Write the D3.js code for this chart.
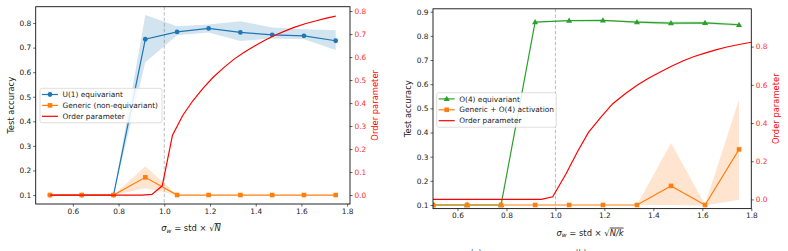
<!DOCTYPE html>
<html>
<head>
<meta charset="utf-8">
<script src="https://cdn.jsdelivr.net/npm/d3@7"></script>
<style>
  body { margin: 0; background: #fff; }
  svg { font-family: "DejaVu Sans", sans-serif; }
</style>
</head>
<body>
<svg id="chart" width="788" height="251"></svg>
<script>
// Shared sweep of sigma_w
const sigma = [0.5, 0.639, 0.778, 0.917, 1.056, 1.194, 1.333, 1.472, 1.611, 1.75];

// Left panel: U(1)
const u1Acc = [0.1, 0.1, 0.1, 0.734, 0.764, 0.778, 0.762, 0.752, 0.748, 0.728];
const u1Lo  = [0.1, 0.1, 0.1, 0.640, 0.750, 0.761, 0.727, 0.737, 0.734, 0.690];
const u1Hi  = [0.1, 0.1, 0.1, 0.833, 0.787, 0.794, 0.807, 0.782, 0.775, 0.771];
const genAcc = [0.1, 0.1, 0.1, 0.172, 0.1, 0.1, 0.1, 0.1, 0.1, 0.1];
const genLo  = [0.1, 0.1, 0.1, 0.128, 0.1, 0.1, 0.1, 0.1, 0.1, 0.1];
const genHi  = [0.1, 0.1, 0.1, 0.217, 0.1, 0.1, 0.1, 0.1, 0.1, 0.1];
const orderX1 = [0.5, 0.545, 0.589, 0.634, 0.679, 0.723, 0.768, 0.813, 0.857, 0.902, 0.946, 0.991,
  1.036, 1.080, 1.125, 1.170, 1.214, 1.259, 1.304, 1.348, 1.393, 1.438, 1.482, 1.527, 1.571,
  1.616, 1.661, 1.705, 1.75];
const order1 = [0, 0, 0, 0, 0, 0, 0, 0, 0, 0, 0.003, 0.04,
  0.26, 0.345, 0.41, 0.465, 0.512, 0.553, 0.59, 0.62, 0.647, 0.672, 0.694, 0.713, 0.73,
  0.745, 0.757, 0.768, 0.778];

// Right panel: O(4)
const o4Acc = [0.1, 0.1, 0.1, 0.857, 0.863, 0.864, 0.857, 0.853, 0.854, 0.846];
const o4Lo  = [0.1, 0.1, 0.1, 0.855, 0.861, 0.862, 0.852, 0.846, 0.849, 0.840];
const o4Hi  = [0.1, 0.1, 0.1, 0.859, 0.865, 0.866, 0.861, 0.859, 0.859, 0.851];
const gaAcc = [0.1, 0.1, 0.1, 0.1, 0.1, 0.1, 0.1, 0.179, 0.1, 0.33];
const gaLo  = [0.1, 0.1, 0.1, 0.1, 0.1, 0.1, 0.1, 0.1, 0.098, 0.122];
const gaHi  = [0.1, 0.1, 0.1, 0.1, 0.1, 0.1, 0.1, 0.357, 0.102, 0.537];
const orderX2 = [0.5, 0.942, 0.989, 1.044, 1.09, 1.135, 1.185, 1.233, 1.285, 1.335, 1.382,
  1.43, 1.478, 1.525, 1.567, 1.607, 1.655, 1.70, 1.75, 1.8];
const order2 = [0, 0, 0.014, 0.136, 0.25, 0.351, 0.43, 0.50, 0.553, 0.599, 0.636,
  0.668, 0.70, 0.727, 0.748, 0.765, 0.783, 0.798, 0.811, 0.823];

const ticksX = [0.6, 0.8, 1.0, 1.2, 1.4, 1.6, 1.8];

const svg = d3.select("#chart");
const fmt = d3.format(".1f");

function drawPanel(p) {
  const g = svg.append("g");
  const x = d3.scaleLinear().domain(p.xDomain).range([p.left, p.right]);
  const yL = d3.scaleLinear().domain(p.yLDomain).range([p.bottom, p.top]);
  const yR = d3.scaleLinear().domain(p.yRDomain).range([p.bottom, p.top]);

  const clipId = "clip" + p.id;
  svg.append("clipPath").attr("id", clipId)
    .append("rect").attr("x", p.left).attr("y", p.top)
    .attr("width", p.right - p.left).attr("height", p.bottom - p.top);
  const plot = g.append("g").attr("clip-path", `url(#${clipId})`);

  // dashed marker at sigma_w = 1
  plot.append("line")
    .attr("x1", x(1)).attr("x2", x(1)).attr("y1", p.top).attr("y2", p.bottom)
    .attr("stroke", "#aaa").attr("stroke-width", 0.8).attr("stroke-dasharray", "3.5,2");

  p.series.forEach(s => {
    const pts = sigma.map((v, i) => ({ x: v, y: s.acc[i], lo: s.lo[i], hi: s.hi[i] }));
    plot.append("path").datum(pts)
      .attr("fill", s.color).attr("fill-opacity", 0.2)
      .attr("d", d3.area().x(d => x(d.x)).y0(d => yL(d.lo)).y1(d => yL(d.hi)));
  });

  p.series.forEach(s => {
    const pts = sigma.map((v, i) => ({ x: v, y: s.acc[i] }));
    plot.append("path").datum(pts)
      .attr("fill", "none").attr("stroke", s.color).attr("stroke-width", 1.2)
      .attr("d", d3.line().x(d => x(d.x)).y(d => yL(d.y)));
    drawMarkers(plot, pts.map(d => [x(d.x), yL(d.y)]), s.marker, s.color);
  });

  const ord = p.orderX.map((v, i) => [v, p.order[i]]);
  plot.append("path").datum(ord)
    .attr("fill", "none").attr("stroke", "red").attr("stroke-width", 1.2)
    .attr("d", d3.line().x(d => x(d[0])).y(d => yR(d[1])));

  // axes
  const xAxis = g.append("g").attr("transform", `translate(0,${p.bottom})`)
    .call(d3.axisBottom(x).tickValues(ticksX).tickFormat(fmt).tickSize(2.5).tickPadding(2));
  const lAxis = g.append("g").attr("transform", `translate(${p.left},0)`)
    .call(d3.axisLeft(yL).tickValues(p.yLTicks).tickFormat(fmt).tickSize(2.5).tickPadding(2));
  const rAxis = g.append("g").attr("transform", `translate(${p.right},0)`)
    .call(d3.axisRight(yR).tickValues(p.yRTicks).tickFormat(fmt).tickSize(2.5).tickPadding(2));
  [xAxis, lAxis, rAxis].forEach(a => {
    a.select(".domain").remove();
    a.selectAll("text").attr("font-size", 7.4).attr("fill", "#222")
      .attr("font-family", "DejaVu Sans, sans-serif");
    a.selectAll("line").attr("stroke", "#222").attr("stroke-width", 0.7);
  });
  rAxis.selectAll("text").attr("fill", "#ff3030");

  g.append("rect").attr("x", p.left).attr("y", p.top)
    .attr("width", p.right - p.left).attr("height", p.bottom - p.top)
    .attr("fill", "none").attr("stroke", "#111").attr("stroke-width", 0.9);

  // axis titles
  g.append("text").attr("transform", `translate(${p.left - 22},${(p.top + p.bottom) / 2}) rotate(-90)`)
    .attr("text-anchor", "middle").attr("font-size", 8.4).attr("fill", "#222").text("Test accuracy");
  g.append("text").attr("transform", `translate(${p.right + 28},${(p.top + p.bottom) / 2}) rotate(-90)`)
    .attr("text-anchor", "middle").attr("font-size", 8.4).attr("fill", "red").text("Order parameter");

  const xl = g.append("text").attr("x", p.xLabelX).attr("y", p.bottom + 27)
    .attr("text-anchor", "middle").attr("font-size", 8.4).attr("fill", "#222");
  xl.append("tspan").attr("font-style", "italic").text("σ");
  xl.append("tspan").attr("font-style", "italic").attr("font-size", 6).attr("dy", 1.8).text("w");
  xl.append("tspan").attr("dy", -1.8).text(" = std × √");
  xl.append("tspan").attr("font-style", "italic").attr("text-decoration", "overline").text(p.root);

  // legend
  const lg = g.append("g").attr("transform", `translate(${p.legX},${p.legY})`);
  lg.append("rect").attr("width", p.legW).attr("height", 34.5).attr("rx", 2)
    .attr("fill", "#fff").attr("fill-opacity", 0.85).attr("stroke", "#d0d0d0").attr("stroke-width", 0.7);
  const items = p.series.map(s => ({ label: s.label, color: s.color, marker: s.marker }))
    .concat([{ label: "Order parameter", color: "red", marker: null }]);
  items.forEach((it, i) => {
    const cy = 6.2 + i * 10.9;
    lg.append("line").attr("x1", 2).attr("x2", 18).attr("y1", cy).attr("y2", cy)
      .attr("stroke", it.color).attr("stroke-width", 1.2);
    if (it.marker) drawMarkers(lg, [[10, cy]], it.marker, it.color);
    lg.append("text").attr("x", 22.5).attr("y", cy + 2.7).attr("font-size", 7.4)
      .attr("fill", "#222").text(it.label);
  });
}

function drawMarkers(sel, pts, kind, color) {
  if (kind === "circle") {
    sel.selectAll(null).data(pts).join("circle")
      .attr("cx", d => d[0]).attr("cy", d => d[1]).attr("r", 2.4).attr("fill", color);
  } else if (kind === "square") {
    sel.selectAll(null).data(pts).join("rect")
      .attr("x", d => d[0] - 2.3).attr("y", d => d[1] - 2.3).attr("width", 4.6).attr("height", 4.6)
      .attr("fill", color);
  } else {
    const tri = d3.symbol(d3.symbolTriangle, 16);
    sel.selectAll(null).data(pts).join("path")
      .attr("transform", d => `translate(${d[0]},${d[1] + 0.4})`).attr("d", tri).attr("fill", color);
  }
}

drawPanel({
  id: "a", left: 35.7, right: 350, top: 6.7, bottom: 204,
  xDomain: [0.4375, 1.8125], yLDomain: [0.0635, 0.8665], yRDomain: [-0.039, 0.819],
  yLTicks: [0.1, 0.2, 0.3, 0.4, 0.5, 0.6, 0.7, 0.8],
  yRTicks: [0, 0.1, 0.2, 0.3, 0.4, 0.5, 0.6, 0.7, 0.8],
  series: [
    { label: "U(1) equivariant", acc: u1Acc, lo: u1Lo, hi: u1Hi, color: "#1f77b4", marker: "circle" },
    { label: "Generic (non-equivariant)", acc: genAcc, lo: genLo, hi: genHi, color: "#ff7f0e", marker: "square" }
  ],
  orderX: orderX1, order: order1, root: "N",
  xLabelX: 191, legX: 40, legY: 88.3, legW: 122
});

drawPanel({
  id: "b", left: 433, right: 751.3, top: 8.8, bottom: 208.6,
  xDomain: [0.5, 1.8], yLDomain: [0.085, 0.912], yRDomain: [-0.048, 0.998],
  yLTicks: [0.1, 0.2, 0.3, 0.4, 0.5, 0.6, 0.7, 0.8, 0.9],
  yRTicks: [0, 0.2, 0.4, 0.6, 0.8],
  series: [
    { label: "O(4) equivariant", acc: o4Acc, lo: o4Lo, hi: o4Hi, color: "#2ca02c", marker: "triangle" },
    { label: "Generic + O(4) activation", acc: gaAcc, lo: gaLo, hi: gaHi, color: "#ff7f0e", marker: "square" }
  ],
  orderX: orderX2, order: order2, root: "N/k",
  xLabelX: 590, legX: 436.7, legY: 92.7, legW: 119.6
});

// captions below the panels, cut off by the window edge as in the reference
svg.append("text").attr("x", 476).attr("y", 256).attr("font-size", 8).attr("fill", "#555")
  .attr("text-anchor", "middle").text("(a)");
svg.append("text").attr("x", 581).attr("y", 256).attr("font-size", 8).attr("fill", "#555")
  .attr("text-anchor", "middle").text("(b)");
</script>
</body>
</html>
